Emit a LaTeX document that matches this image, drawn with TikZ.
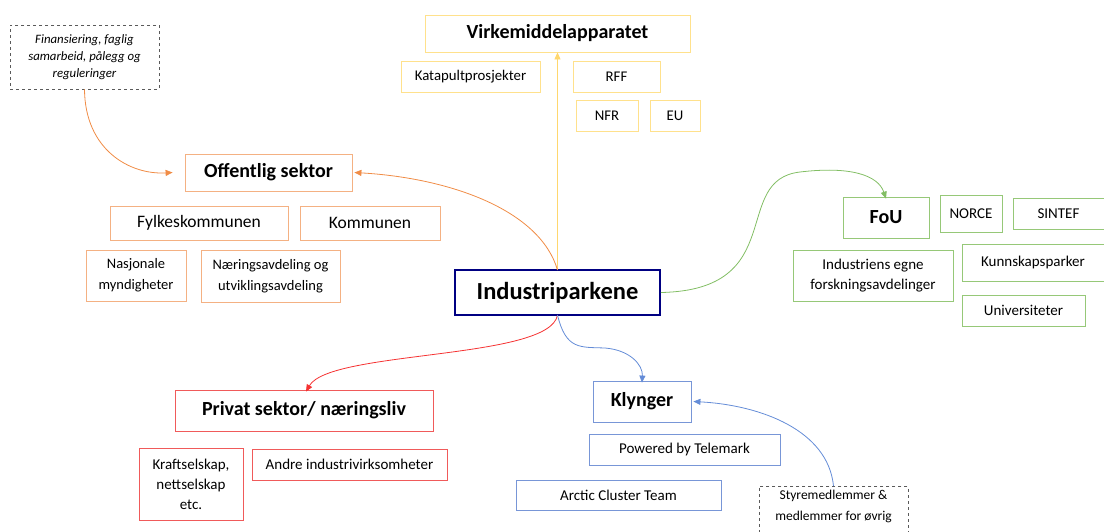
\documentclass[tikz,border=0pt]{standalone}
\usepackage{fontspec}
\setmainfont{Carlito}
\usetikzlibrary{arrows.meta}
\definecolor{ylw}{RGB}{255,225,140}
\definecolor{ylwline}{RGB}{255,215,110}
\definecolor{org}{RGB}{244,177,131}
\definecolor{orgline}{RGB}{240,140,70}
\definecolor{grn}{RGB}{150,200,120}
\definecolor{grnline}{RGB}{130,190,100}
\definecolor{rd}{RGB}{240,90,90}
\definecolor{rdline}{RGB}{245,50,50}
\definecolor{blu}{RGB}{120,150,215}
\definecolor{bluline}{RGB}{100,140,215}
\definecolor{navy}{RGB}{0,0,130}
\definecolor{dgray}{RGB}{90,90,90}
\tikzset{
  bx/.style={draw, line width=0.8pt, inner sep=0pt, align=center, font=\fontsize{15}{20}\selectfont},
  hd/.style={bx, font=\fontsize{20}{22}\selectfont\bfseries},
  sm/.style={bx, font=\fontsize{14.5}{21}\selectfont},
  note/.style={draw=dgray, dashed, line width=0.7pt, inner sep=0pt, align=center, font=\fontsize{12.8}{17}\selectfont},
  con/.style={line width=0.8pt},
}
\begin{document}
\begin{tikzpicture}[x=1pt,y=-1pt]
\clip (0,0) rectangle (1104,531);
% Virkemiddelapparatet group (yellow)
\node[hd, draw=ylw, minimum width=265, minimum height=37] (virk) at (557.5,33.5) {Virkemiddelapparatet};
\node[bx, draw=ylw, minimum width=139, minimum height=31, font=\fontsize{14.8}{17}\selectfont] (kata) at (470.5,76.5) {Katapultprosjekter};
\node[bx, draw=ylw, minimum width=87, minimum height=31, font=\fontsize{14.8}{17}\selectfont] (rff) at (616.5,76.5) {RFF};
\node[bx, draw=ylw, minimum width=62, minimum height=31, font=\fontsize{14.8}{17}\selectfont] (nfr) at (607,115.5) {NFR};
\node[bx, draw=ylw, minimum width=50, minimum height=31, font=\fontsize{14.8}{17}\selectfont] (eu) at (675,115.5) {EU};
% Offentlig sektor (orange)
\node[note, minimum width=149, minimum height=64] (fin) at (84.5,57) {\itshape Finansiering, faglig\\\itshape samarbeid, pålegg og\\\itshape reguleringer};
\node[hd, draw=org, minimum width=167, minimum height=37] (off) at (268.5,172.5) {Offentlig sektor};
\node[bx, draw=org, minimum width=178, minimum height=34, font=\fontsize{17.5}{19}\selectfont] (fylk) at (199,223) {Fylkeskommunen};
\node[bx, draw=org, minimum width=140, minimum height=34, font=\fontsize{17.5}{19}\selectfont] (komm) at (370,223) {Kommunen};
\node[sm, draw=org, minimum width=100, minimum height=51] (nasj) at (136,275.5) {Nasjonale\\myndigheter};
\node[sm, draw=org, minimum width=139, minimum height=52] (naer) at (270.5,276) {Næringsavdeling og\\utviklingsavdeling};
% Industriparkene
\node[hd, draw=navy, line width=1.6pt, minimum width=205, minimum height=45, font=\fontsize{24.5}{26}\selectfont\bfseries] (ind) at (557.5,292.5) {Industriparkene};
% FoU (green)
\node[hd, draw=grn, minimum width=86, minimum height=41] (fou) at (886,217.5) {FoU};
\node[bx, draw=grn, minimum width=62, minimum height=37] (norce) at (971,213.5) {NORCE};
\node[bx, draw=grn, minimum width=91, minimum height=31] (sintef) at (1058.5,213.5) {SINTEF};
\node[bx, draw=grn, minimum width=160, minimum height=51] (egne) at (873,275.5) {Industriens egne\\forskningsavdelinger};
\node[bx, draw=grn, minimum width=142, minimum height=37] (kunn) at (1033,262.5) {Kunnskapsparker};
\node[bx, draw=grn, minimum width=123, minimum height=31] (univ) at (1023.5,310.5) {Universiteter};
% Privat sektor (red)
\node[hd, draw=rd, minimum width=258, minimum height=41] (priv) at (304,410.5) {Privat sektor/ næringsliv};
\node[bx, draw=rd, minimum width=104, minimum height=72] (kraft) at (191,484) {Kraftselskap,\\nettselskap\\etc.};
\node[bx, draw=rd, minimum width=195, minimum height=31] (andre) at (349.5,464.5) {Andre industrivirksomheter};
% Klynger (blue)
\node[hd, draw=blu, minimum width=98, minimum height=41] (kly) at (642,401.5) {Klynger};
\node[bx, draw=blu, minimum width=191, minimum height=31] (pow) at (684.5,449.5) {Powered by Telemark};
\node[bx, draw=blu, minimum width=205, minimum height=30] (arc) at (618.5,495) {Arctic Cluster Team};
\node[note, minimum width=149, inner ysep=4pt, text depth=22pt, font=\fontsize{13.5}{21}\selectfont, anchor=north] (sty) at (833.5,486) {Styremedlemmer \&\\medlemmer for øvrig};
% connectors
\coordinate (indtop) at (557.5,270);
\coordinate (indbot) at (557.5,315);
\draw[con, draw=ylwline, -{Triangle[length=7pt,width=6pt,fill=ylwline]}] (indtop) -- (virk.south);
\draw[con, draw=orgline, -{Triangle[length=7pt,width=6pt,fill=orgline]}] (fin.south) .. controls (85,150) and (130,175) .. ([xshift=-12pt]off.west);
\draw[con, draw=orgline, -{Triangle[length=7pt,width=6pt,fill=orgline]}] (indtop) .. controls (540,210) and (450,178) .. ([xshift=2pt]off.east);
\draw[con, draw=grnline, -{Triangle[length=7pt,width=6pt,fill=grnline]}] (ind.east) .. controls (790,290) and (730,180) .. (800,172) .. controls (850,166) and (878,175) .. ([yshift=-2pt]fou.north);
\draw[con, draw=rdline, -{Triangle[length=7pt,width=6pt,fill=rdline]}] (indbot) .. controls (550,360) and (330,350) .. ([xshift=2pt,yshift=-2pt]priv.north);
\draw[con, draw=bluline, -{Triangle[length=7pt,width=6pt,fill=bluline]}] (indbot) .. controls (566,350) and (580,347) .. (605,348) .. controls (630,350) and (643,365) .. ([yshift=-2pt]kly.north);
\draw[con, draw=bluline, -{Triangle[length=7pt,width=6pt,fill=bluline]}] (sty.north) .. controls (828,430) and (760,405) .. ([xshift=2pt]kly.east);
\end{tikzpicture}
\end{document}
